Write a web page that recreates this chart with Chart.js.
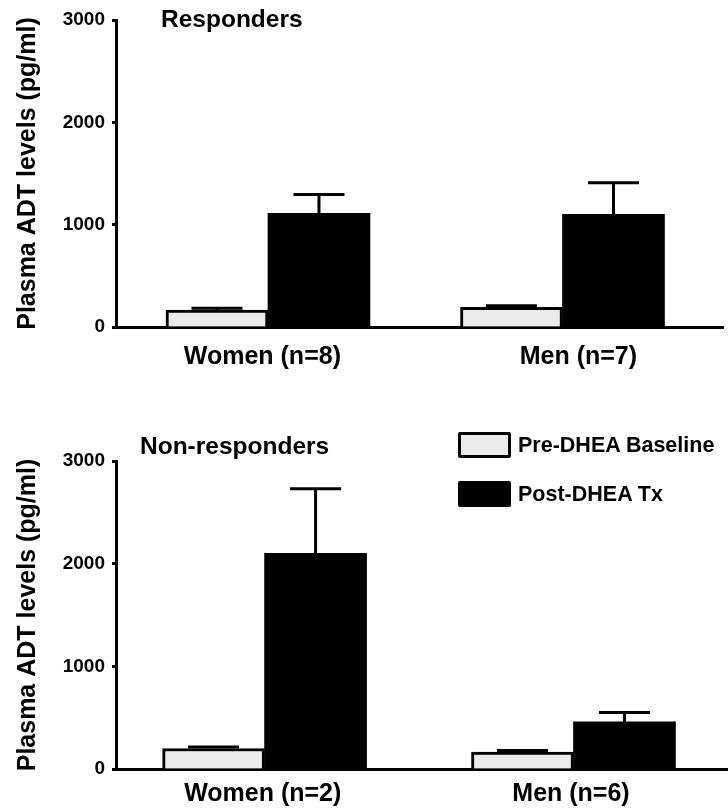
<!DOCTYPE html>
<html>
<head>
<meta charset="utf-8">
<script src="https://cdn.jsdelivr.net/npm/chart.js@4.4.1/dist/chart.umd.min.js"></script>
<style>
  body { margin: 0; background: #fff; }
  #wrap { position: relative; width: 728px; height: 810px; font-family: 'Liberation Sans', Arial, sans-serif; font-weight: bold; color: #000; }
  canvas { position: absolute; left: 0; }
  #top { top: 0; }
  #bottom { top: 400px; }
  .panel-title { position: absolute; font-size: 24.5px; line-height: 24.5px; white-space: nowrap; }
  #legend { position: absolute; left: 458px; top: 432px; }
  .row { display: flex; align-items: flex-start; margin-bottom: 23px; }
  .swatch { width: 53px; height: 26px; box-sizing: border-box; border: 3px solid #000; border-radius: 2px; }
  .row span { margin-left: 7px; font-size: 21.5px; line-height: 26px; white-space: nowrap; }
</style>
</head>
<body>
<div id="wrap">
  <canvas id="top" width="728" height="400"></canvas>
  <canvas id="bottom" width="728" height="410"></canvas>
  <div class="panel-title" id="title1" style="left:161px; top:7px"></div>
  <div class="panel-title" id="title2" style="left:140px; top:434px"></div>
  <div id="legend"></div>
</div>
<script>
const seriesNames = ['Pre-DHEA Baseline', 'Post-DHEA Tx'];
const yTitle = 'Plasma ADT levels (pg/ml)';
const yTicks = [0, 1000, 2000, 3000];

// Responders
const respTitle = 'Responders';
const respGroups = ['Women (n=8)', 'Men (n=7)'];
const respPre = [165, 192];
const respPreErr = [18, 15];
const respPost = [1110, 1100];
const respPostErr = [185, 310];

// Non-responders
const nonTitle = 'Non-responders';
const nonGroups = ['Women (n=2)', 'Men (n=6)'];
const nonPre = [200, 165];
const nonPreErr = [15, 15];
const nonPost = [2100, 460];
const nonPostErr = [630, 90];

const preFill = '#ebebeb';
const font = "'Liberation Sans', Arial, sans-serif";

// draws the upper SEM whisker on every bar
const errorBars = {
  id: 'errorBars',
  afterDatasetsDraw(chart) {
    const ctx = chart.ctx, y = chart.scales.y;
    ctx.save();
    ctx.strokeStyle = '#000';
    ctx.lineWidth = 3;
    chart.data.datasets.forEach((ds, i) => {
      chart.getDatasetMeta(i).data.forEach((bar, j) => {
        const top = y.getPixelForValue(ds.data[j].y + ds.errors[j]);
        const half = bar.width / 4;
        ctx.beginPath();
        ctx.moveTo(bar.x, bar.y);
        ctx.lineTo(bar.x, top);
        ctx.moveTo(bar.x - half, top);
        ctx.lineTo(bar.x + half, top);
        ctx.stroke();
      });
    });
    ctx.restore();
  }
};

function makeChart(id, groups, pre, preErr, post, postErr, opt) {
  const points = vals => vals.map((v, i) => ({ x: i, y: v }));
  return new Chart(document.getElementById(id), {
    type: 'bar',
    data: {
      datasets: [
        { label: seriesNames[0], data: points(pre), errors: preErr, backgroundColor: preFill,
          borderColor: '#000', borderWidth: 3, barThickness: 102 },
        { label: seriesNames[1], data: points(post), errors: postErr, backgroundColor: '#000',
          borderColor: '#000', borderWidth: 0, barThickness: 102 }
      ]
    },
    options: {
      responsive: false,
      animation: false,
      events: [],
      layout: { padding: opt.padding },
      plugins: { legend: { display: false }, tooltip: { enabled: false } },
      scales: {
        x: {
          type: 'linear', min: opt.xMin, max: opt.xMax, offset: false,
          grid: { display: false, drawTicks: false, offset: false },
          border: { color: '#000', width: 3 },
          afterBuildTicks: s => { s.ticks = opt.labelAt.map(v => ({ value: v })); },
          afterFit: s => { s.height = opt.xHeight; },
          ticks: {
            callback: (v, i) => groups[i],
            color: '#000', padding: opt.labelPad, maxRotation: 0, autoSkip: false,
            font: { family: font, size: 25, weight: 'bold' }
          }
        },
        y: {
          min: 0, max: 3000,
          afterBuildTicks: s => { s.ticks = yTicks.map(v => ({ value: v })); },
          afterFit: s => { s.width = 116; },
          grid: { drawOnChartArea: false, color: '#000', tickLength: 4, tickWidth: 3 },
          border: { color: '#000', width: 3 },
          ticks: {
            callback: v => String(v),
            color: '#000', padding: 7, font: { family: font, size: 19, weight: 'bold' }
          },
          title: {
            display: true, text: yTitle, color: '#000', padding: { top: 13, bottom: 0 },
            font: { family: font, size: 25, weight: 'bold' }
          }
        }
      }
    },
    plugins: [errorBars]
  });
}

const topChart = makeChart('top', respGroups, respPre, respPreErr, respPost, respPostErr, {
  padding: { left: 0, right: 5, top: 20, bottom: 0 },
  xMin: -0.516, xMax: 1.545, xHeight: 73, labelPad: 15,
  labelAt: [-0.019, 1.054]
});

const bottomChart = makeChart('bottom', nonGroups, nonPre, nonPreErr, nonPost, nonPostErr, {
  padding: { left: 0, right: 1, top: 61, bottom: 0 },
  xMin: -0.481, xMax: 1.497, xHeight: 41, labelPad: 10,
  labelAt: [-0.006, 0.992]
});

document.getElementById('title1').textContent = respTitle;
document.getElementById('title2').textContent = nonTitle;

const legendBox = document.getElementById('legend');
bottomChart.data.datasets.forEach(ds => {
  const row = document.createElement('div');
  row.className = 'row';
  const sw = document.createElement('div');
  sw.className = 'swatch';
  sw.style.background = ds.backgroundColor;
  const txt = document.createElement('span');
  txt.textContent = ds.label;
  row.appendChild(sw);
  row.appendChild(txt);
  legendBox.appendChild(row);
});
</script>
</body>
</html>
